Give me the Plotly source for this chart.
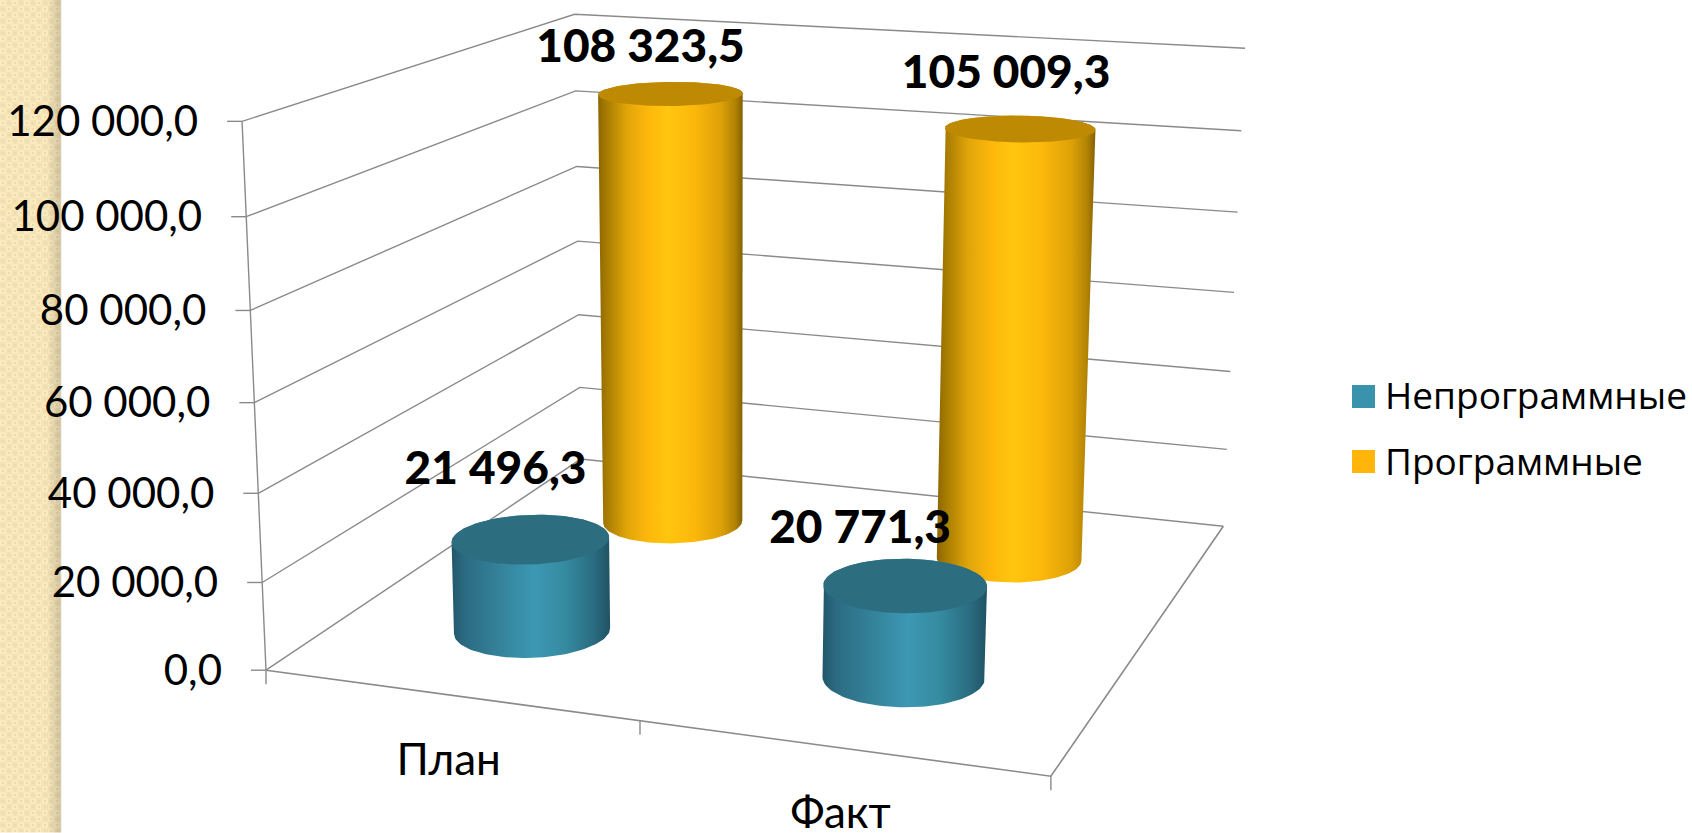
import numpy as np
import plotly.graph_objects as go

# ---------- data ----------
CATEGORIES = ["План", "Факт"]
SERIES = ["Непрограммные", "Программные"]
NEPROGRAM = [21496.3, 20771.3]
PROGRAM = [108323.5, 105009.3]
TICKS = [0, 20000, 40000, 60000, 80000, 100000, 120000]
TICK_TEXT = ["0,0", "20 000,0", "40 000,0", "60 000,0", "80 000,0", "100 000,0", "120 000,0"]
VALUE_TEXT_NEPROGRAM = ["21 496,3", "20 771,3"]
VALUE_TEXT_PROGRAM = ["108 323,5", "105 009,3"]

# ---------- view of the 3D box (unit box: across, depth, height) -> page pixels ----------
CALIB_BOX = [(0,0,1),(0,0,5/6),(0,0,4/6),(0,0,3/6),(0,0,1/6),(0,0,0),
             (0,1,1),(0,1,5/6),(0,1,4/6),(0,1,2/6),(0,1,1/6),(0,1,0),
             (1,1,1),(1,1,5/6),(1,1,1/6),(1,1,0),(1,0,0),(.5,0,0)]
CALIB_PX = [(241.7,121.7),(246,216.7),(250.7,310),(255,402),(262.3,582.3),(266,670.7),
            (575,14.3),(575.7,90.7),(576,166.7),(578.3,314.3),(579,387.7),(582,459),
            (1245,48.3),(1241.7,131),(1226.7,449.3),(1223.3,526),(1051,775.7),(639.3,721.7)]

def fit_view(box, px):
    A, b = [], []
    for (X, Y, Z), (u, v) in zip(box, px):
        A.append([X, Y, Z, 1, 0, 0, 0, 0, -u*X, -u*Y, -u*Z]); b.append(u)
        A.append([0, 0, 0, 0, X, Y, Z, 1, -v*X, -v*Y, -v*Z]); b.append(v)
    p = np.linalg.lstsq(np.array(A, float), np.array(b, float), rcond=None)[0]
    return np.append(p, 1.0).reshape(3, 4)

VIEW = fit_view(CALIB_BOX, CALIB_PX)
VMAX = TICKS[-1]

def project(u, v, value):
    u, v, value = np.broadcast_arrays(np.asarray(u, float), np.asarray(v, float), np.asarray(value, float))
    q = VIEW @ np.vstack([u.ravel(), v.ravel(), value.ravel() / VMAX, np.ones(u.size)])
    return q[0] / q[2], q[1] / q[2]

def hull(x, y):
    pts = sorted(set(zip(np.round(x, 3).tolist(), np.round(y, 3).tolist())))
    def half(points):
        h = []
        for p in points:
            while len(h) > 1 and (h[-1][0]-h[-2][0])*(p[1]-h[-2][1]) - (h[-1][1]-h[-2][1])*(p[0]-h[-2][0]) <= 0:
                h.pop()
            h.append(p)
        return h[:-1]
    out = half(pts) + half(pts[::-1])
    out.append(out[0])
    return [p[0] for p in out], [p[1] for p in out]

# ---------- layout of marks ----------
U_CENTERS = [0.25, 0.75]
V_CENTERS = {"front": 0.25, "back": 0.75}
RU, RV = 0.0995, 0.105
GRID = "#8a8a8a"
THETA = np.linspace(0, 2*np.pi, 121)
YELLOW_SIDE = [[0, "#8c6600"], [.06, "#a87c02"], [.2, "#e0a509"], [.34, "#fdb70b"], [.48, "#ffc60f"],
               [.66, "#fdb80b"], [.85, "#dda108"], [.95, "#b08204"], [1, "#846000"]]
YELLOW_TOP = "#bf8a03"
BLUE_SIDE = [[0, "#22566a"], [.08, "#2b6b82"], [.28, "#338097"], [.52, "#3c98b4"], [.72, "#358a9f"],
             [.9, "#2a6b80"], [1, "#1f5263"]]
BLUE_TOP = "#2c6e80"
LEGEND_BLUE, LEGEND_YELLOW = "#3a93ad", "#ffb50a"
FONT = "Lato"
OFFSET_BACK = [(-30, -43), (-14, -52)]
OFFSET_FRONT = [(-35, -67), (-45, -54)]

fig = go.Figure()

# decorative strip on the left
sx, sy = np.meshgrid(np.arange(62), np.arange(833))
check = ((sx // 6 + sy // 6) % 2)
inner = ((sx % 12 >= 2) & (sx % 12 < 4) | (sx % 12 >= 8) & (sx % 12 < 10)) & ((sy % 12 >= 2) & (sy % 12 < 4) | (sy % 12 >= 8) & (sy % 12 < 10))
rgb = np.stack([np.full(check.shape, 250.0), np.full(check.shape, 234.0), np.full(check.shape, 192.0)], -1)
rgb[check == 1] = (244, 226, 180)
rgb[inner] = (238, 219, 172)
shade = np.clip((sx - 46) / 15.0, 0, 1)[..., None] * 0.16
rgb = rgb * (1 - shade)
rgb[:, 60:61] = (216, 205, 172)
rgb[:, 61:62] = (232, 228, 216)
fig.add_trace(go.Image(z=rgb.astype(np.uint8), x0=0, y0=0, dx=1, dy=1, hoverinfo="skip"))

def line(xs, ys, width=1.4):
    fig.add_trace(go.Scatter(x=xs, y=ys, mode="lines", line=dict(color=GRID, width=width),
                             showlegend=False, hoverinfo="skip"))

# walls and gridlines
for t in TICKS:
    x, y = project([0, 0, 1], [0, 1, 1], [t, t, t])
    line(x.tolist(), y.tolist())
    line([x[0] - 15, x[0]], [y[0], y[0]])
x, y = project([0, 0], [0, 0], [0, VMAX])
line(x.tolist(), y.tolist())
x, y = project([0, 1, 1], [0, 0, 1], [0, 0, 0])
line(x.tolist(), y.tolist(), 1.6)
for u in [0, .5, 1]:
    x, y = project(u, 0, 0)
    line([x[0], x[0]], [y[0], y[0] + 14])

# cylinders
def cylinder(u0, v0, value, side, top, name):
    cu, cv = u0 + RU*np.cos(THETA), v0 + RV*np.sin(THETA)
    xb, yb = project(cu, cv, 0)
    xt, yt = project(cu, cv, value)
    hx, hy = hull(np.r_[xb, xt], np.r_[yb, yt])
    fig.add_trace(go.Scatter(x=hx, y=hy, mode="lines", fill="toself", line=dict(width=0, color=top),
                             fillgradient=dict(type="horizontal", colorscale=side),
                             name=name, showlegend=False, hoverinfo="skip"))
    fig.add_trace(go.Scatter(x=xt, y=yt, mode="lines", fill="toself", fillcolor=top, line=dict(width=0, color=top),
                             name=name, showlegend=False, hoverinfo="skip"))

for u0, val in zip(U_CENTERS, PROGRAM):
    cylinder(u0, V_CENTERS["back"], val, YELLOW_SIDE, YELLOW_TOP, SERIES[1])
for u0, val in zip(U_CENTERS, NEPROGRAM):
    cylinder(u0, V_CENTERS["front"], val, BLUE_SIDE, BLUE_TOP, SERIES[0])

def text(xs, ys, labels, size, pos="middle center", weight="normal", family=FONT):
    fig.add_trace(go.Scatter(x=xs, y=ys, text=labels, mode="text", textposition=pos,
                             textfont=dict(family=family, size=size, color="#000000", weight=weight),
                             showlegend=False, hoverinfo="skip", cliponaxis=False))

# tick labels
x, y = project(np.zeros(len(TICKS)), np.zeros(len(TICKS)), TICKS)
text((x - 44).tolist(), (y + 4).tolist(), TICK_TEXT, 42, "middle left")

# category labels
x, y = project(U_CENTERS, [0, 0], [0, 0])
text(x.tolist(), (y + 69).tolist(), CATEGORIES, 44)

# value labels
for vals, labels, vc, offs in [(PROGRAM, VALUE_TEXT_PROGRAM, "back", OFFSET_BACK),
                               (NEPROGRAM, VALUE_TEXT_NEPROGRAM, "front", OFFSET_FRONT)]:
    x, y = project(U_CENTERS, [V_CENTERS[vc]]*2, vals)
    text((x + np.array([o[0] for o in offs])).tolist(), (y + np.array([o[1] for o in offs])).tolist(),
         labels, 46, weight=900)

# legend
fig.add_trace(go.Scatter(x=[1363.5, 1363.5], y=[396.5, 461.5], mode="markers",
                         marker=dict(symbol="square", size=23, color=[LEGEND_BLUE, LEGEND_YELLOW], line=dict(width=0)),
                         showlegend=False, hoverinfo="skip", cliponaxis=False))
text([1385, 1385], [400, 466], SERIES, 37, "middle right", family="Open Sans")

fig.update_layout(
    width=1692, height=833, margin=dict(l=0, r=0, t=0, b=0), autosize=False,
    paper_bgcolor="white", plot_bgcolor="white", showlegend=False,
    xaxis=dict(range=[0, 1692], visible=False, fixedrange=True),
    yaxis=dict(range=[833, 0], visible=False, fixedrange=True),
)
fig.write_html("out.html", config={"displayModeBar": False},
               post_script="document.body.style.margin='0';document.body.style.overflow='hidden';")
